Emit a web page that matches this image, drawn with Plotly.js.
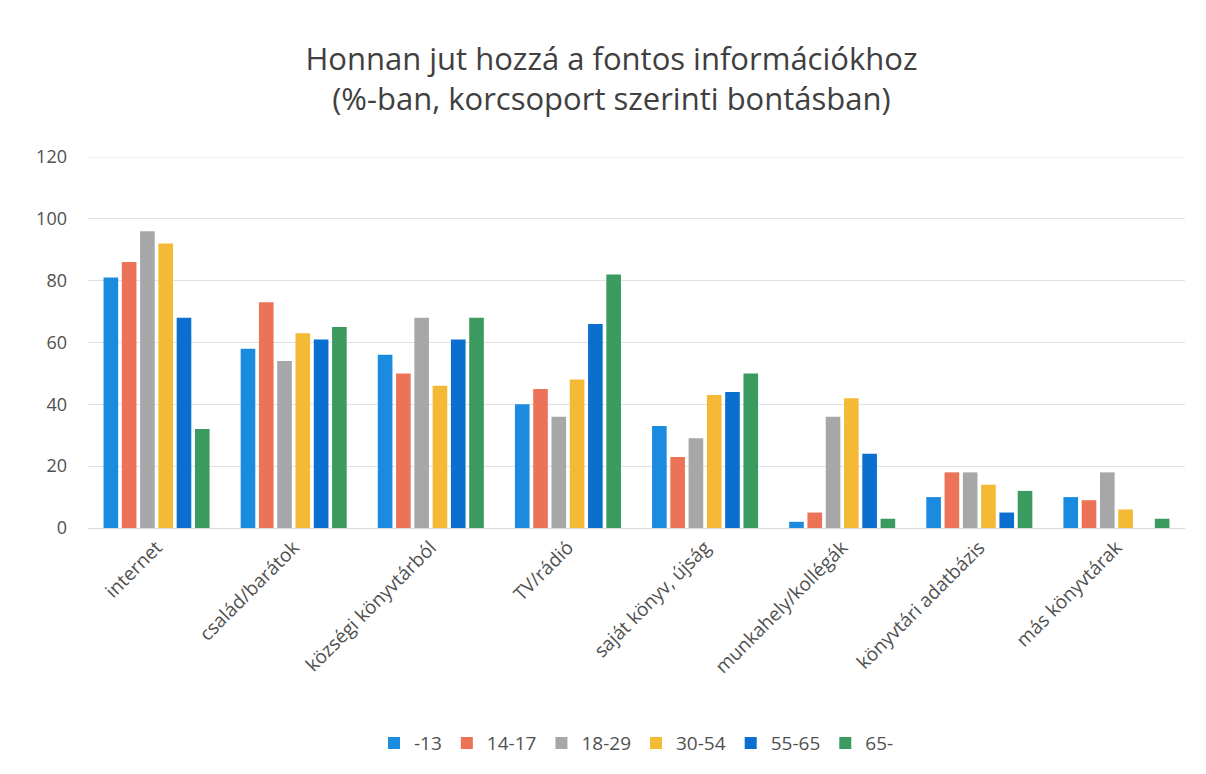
<!DOCTYPE html>
<html><head><meta charset="utf-8">
<script src="https://cdn.plot.ly/plotly-3.0.1.min.js"></script>
<style>html,body{margin:0;padding:0;background:#fff}</style>
</head><body><div id="chart" style="width:1206px;height:774px"></div>
<script>
const categories = ["internet","család/barátok","községi könyvtárból","TV/rádió","saját könyv, újság","munkahely/kollégák","könyvtári adatbázis","más könyvtárak"];
const groups = ["-13","14-17","18-29","30-54","55-65","65-"];
const s_13 =   [81, 58, 56, 40, 33, 2, 10, 10];
const s14_17 = [86, 73, 50, 45, 23, 5, 18, 9];
const s18_29 = [96, 54, 68, 36, 29, 36, 18, 18];
const s30_54 = [92, 63, 46, 48, 43, 42, 14, 6];
const s55_65 = [68, 61, 61, 66, 44, 24, 5, 0];
const s65 =    [32, 65, 68, 82, 50, 3, 12, 3];
const series = [s_13, s14_17, s18_29, s30_54, s55_65, s65];
const colors = ["#1b8be0","#ec7358","#a7a7a9","#f4b935","#0b6fcf","#3b9a60"];

const traces = series.map((v,i)=>({
  type:"bar", name:groups[i], x:categories, y:v,
  marker:{color:colors[i]}, hoverinfo:"x+y+name"
}));

const layout = {
  width:1206, height:774,
  paper_bgcolor:"#ffffff", plot_bgcolor:"#ffffff",
  font:{family:"Open Sans, Liberation Sans, sans-serif", color:"#505050"},
  title:{text:"Honnan jut hozzá a fontos információkhoz<br>(%-ban, korcsoport szerinti bontásban)",
    x:0.507, xanchor:"center", y:0.91, yanchor:"middle",
    font:{size:31, color:"#404040"}},
  margin:{l:88, r:21, t:157, b:246},
  barmode:"group", bargap:0.2, bargroupgap:0.2,
  xaxis:{tickangle:-45, tickfont:{size:19, color:"#505050"}, showline:true, linecolor:"#d9d9d9", ticks:"", automargin:false},
  yaxis:{range:[0,120], dtick:20, tickfont:{size:18, color:"#505050"}, gridcolor:"#e0e0e6", zeroline:false, ticks:"", automargin:false, ticklabelstandoff:20},
  shapes:[{type:"line", xref:"paper", x0:0, x1:1, yref:"y", y0:120, y1:120, line:{color:"#e0e0e6", width:1}}],
  legend:{orientation:"h", x:0.5, xanchor:"center", y:-0.58, yanchor:"middle", font:{size:19, color:"#505050"}, itemwidth:30},
  showlegend:true
};
Plotly.newPlot("chart", traces, layout, {displayModeBar:false, staticPlot:true});
</script></body></html>
